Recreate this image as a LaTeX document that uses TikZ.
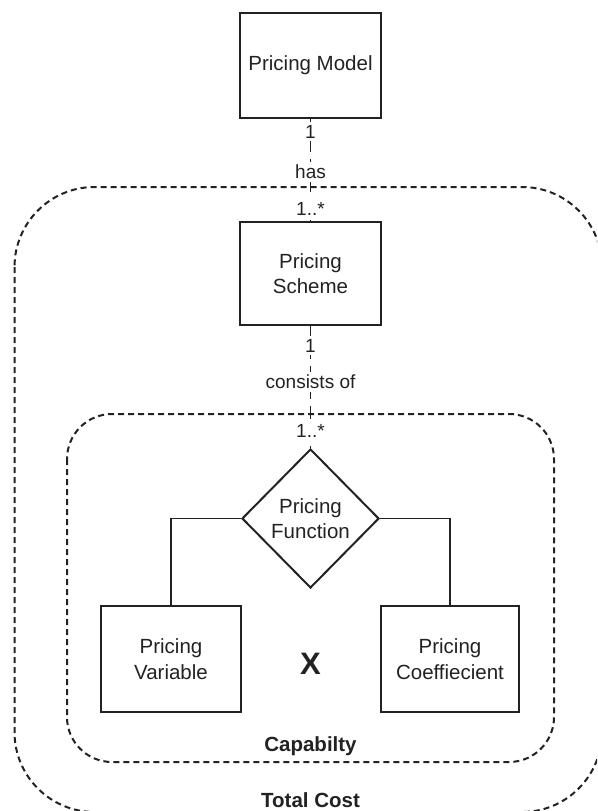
\documentclass[tikz,border=0pt]{standalone}
\usepackage{fontspec}
\setmainfont{Liberation Sans}
\usetikzlibrary{shapes.geometric}
\definecolor{ink}{HTML}{222222}

\tikzset{
  entity/.style={draw=ink, line width=2pt, text=ink, align=center, inner sep=0pt,
    font=\fontsize{20.5}{25.5}\selectfont},
  decision/.style={entity, diamond, minimum width=137pt, minimum height=139pt},
  zone/.style={draw=ink, line width=2pt, dash pattern=on 6pt off 4pt},
  zonelabel/.style={text=ink, font=\bfseries\fontsize{20.5}{24}\selectfont},
  assoc/.style={draw=ink, line width=1.9pt, dash pattern=on 13pt off 7pt},
  link/.style={draw=ink, line width=1.9pt},
  mult/.style={fill=white, text=ink, inner xsep=2pt, inner ysep=3pt, font=\fontsize{19}{22}\selectfont}
}

\begin{document}
\begin{tikzpicture}[x=1pt, y=-1pt]
  \useasboundingbox (0,0) rectangle (597,811);
  \clip (0,0) rectangle (597,811);

  % nested scopes
  \draw[zone, rounded corners=80pt] (14.5,187) rectangle (602,812);
  \draw[zone, rounded corners=45pt] (67,414) rectangle (554,762);
  \node[zonelabel] (capability) at (310.5,746) {Capabilty};
  \node[zonelabel] (totalcost) at (310.5,800) {Total Cost};

  % entities
  \node[entity, minimum width=141pt, minimum height=105pt] (model) at (310.5,65.5) {Pricing Model};
  \node[entity, minimum width=141pt, minimum height=103pt] (scheme) at (310.5,273.5) {Pricing\\Scheme};
  \node[decision] (function) at (310.5,518.5) {Pricing\\Function};
  \node[entity, minimum width=140pt, minimum height=106pt] (variable) at (171,659) {Pricing\\Variable};
  \node[entity, minimum width=138pt, minimum height=106pt] (coeff) at (450,659) {Pricing\\Coeffiecient};
  \node[text=ink, font=\bfseries\fontsize{31}{34}\selectfont] (times) at (310.5,664) {X};

  % associations with multiplicities
  \draw[assoc] (model.south) -- (scheme.north)
    node[mult, pos=0.125] (m1) {1}
    node[mult, pos=0.52] (has) {has}
    node[mult, pos=0.885, inner ysep=4pt] (m2) {1..*};
  \draw[assoc] (scheme.south) -- (function.north)
    node[mult, pos=0.16] (m3) {1}
    node[mult, pos=0.46] (cons) {consists of}
    node[mult, pos=0.86] (m4) {1..*};

  % function operands
  \draw[link] (function.west) -| (variable.north);
  \draw[link] (function.east) -| (coeff.north);
\end{tikzpicture}
\end{document}
